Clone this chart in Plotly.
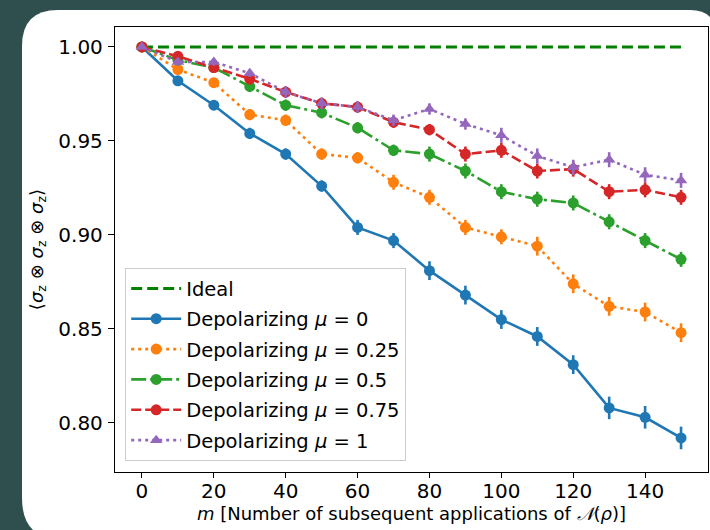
import plotly.graph_objects as go

m_values = [0, 10, 20, 30, 40, 50, 60, 70, 80, 90, 100, 110, 120, 130, 140, 150]

mu0 = [1.000, 0.982, 0.969, 0.954, 0.943, 0.926, 0.904, 0.897, 0.881, 0.868, 0.855, 0.846, 0.831, 0.808, 0.803, 0.792]
mu0_err = [0.000, 0.002, 0.002, 0.003, 0.003, 0.003, 0.004, 0.004, 0.005, 0.005, 0.005, 0.005, 0.005, 0.006, 0.006, 0.006]

mu025 = [1.000, 0.988, 0.981, 0.964, 0.961, 0.943, 0.941, 0.928, 0.920, 0.904, 0.899, 0.894, 0.874, 0.862, 0.859, 0.848]
mu025_err = [0.000, 0.002, 0.002, 0.003, 0.003, 0.003, 0.003, 0.004, 0.004, 0.004, 0.004, 0.005, 0.005, 0.005, 0.005, 0.005]

mu05 = [1.000, 0.993, 0.989, 0.979, 0.969, 0.965, 0.957, 0.945, 0.943, 0.934, 0.923, 0.919, 0.917, 0.907, 0.897, 0.887]
mu05_err = [0.000, 0.002, 0.002, 0.003, 0.003, 0.003, 0.003, 0.003, 0.004, 0.004, 0.004, 0.004, 0.004, 0.004, 0.004, 0.004]

mu075 = [1.000, 0.995, 0.989, 0.983, 0.976, 0.970, 0.968, 0.960, 0.956, 0.943, 0.945, 0.934, 0.935, 0.923, 0.924, 0.920]
mu075_err = [0.000, 0.002, 0.002, 0.003, 0.003, 0.003, 0.003, 0.003, 0.003, 0.004, 0.004, 0.004, 0.004, 0.004, 0.004, 0.004]

mu1 = [1.000, 0.992, 0.992, 0.986, 0.976, 0.970, 0.968, 0.961, 0.967, 0.959, 0.953, 0.942, 0.936, 0.940, 0.932, 0.929]
mu1_err = [0.000, 0.002, 0.002, 0.002, 0.003, 0.003, 0.003, 0.003, 0.003, 0.003, 0.004, 0.004, 0.004, 0.004, 0.004, 0.004]

ideal = [1.0 for _ in m_values]

x_ticks = [0, 20, 40, 60, 80, 100, 120, 140]
y_ticks = [0.80, 0.85, 0.90, 0.95, 1.00]

series = [
    ("Depolarizing <i>μ</i> = 0", mu0, mu0_err, "#1f77b4", "solid", "circle"),
    ("Depolarizing <i>μ</i> = 0.25", mu025, mu025_err, "#ff7f0e", "3px,4px", "circle"),
    ("Depolarizing <i>μ</i> = 0.5", mu05, mu05_err, "#2ca02c", "15px,4px,3px,4px", "circle"),
    ("Depolarizing <i>μ</i> = 0.75", mu075, mu075_err, "#d62728", "10px,4px", "circle"),
    ("Depolarizing <i>μ</i> = 1", mu1, mu1_err, "#9467bd", "3px,4px", "triangle-up"),
]

FONT = "DejaVu Sans"

fig = go.Figure()
fig.add_trace(go.Scatter(
    x=m_values, y=ideal, mode="lines", name="Ideal",
    line=dict(color="#008000", width=3, dash="11px,5px"), legendgroup="a",
))
for i, (name, vals, errs, color, dash, sym) in enumerate(series):
    fig.add_trace(go.Scatter(
        x=m_values, y=vals, mode="lines+markers", name=name,
        line=dict(color=color, width=2.6, dash=dash),
        marker=dict(color=color, size=11, symbol=sym),
        error_y=dict(type="data", array=errs, visible=True, color=color, thickness=2.6, width=0),
        legendgroup="g%d" % i,
    ))

# paper coordinates of the white rounded panel
L, R, T, B = 115, 708, 27, 472
W, H = R - L, B - T
def px(x):
    return (x - L) / W
def py(y):
    return (B - y) / H

x0, x1, y0, y1 = 22, 716, 10, 540
r_tl, r_bl, r_tr = 36, 42, 26
path = (
    f"M {px(x0)},{py(y0 + r_tl)} "
    f"Q {px(x0)},{py(y0)} {px(x0 + r_tl)},{py(y0)} "
    f"L {px(x1 - r_tr)},{py(y0)} "
    f"Q {px(x1)},{py(y0)} {px(x1)},{py(y0 + r_tr)} "
    f"L {px(x1)},{py(y1)} "
    f"L {px(x0 + r_bl)},{py(y1)} "
    f"Q {px(x0)},{py(y1)} {px(x0)},{py(y1 - r_bl)} Z"
)

fig.update_layout(
    width=710, height=530,
    margin=dict(l=L, r=710 - R, t=T, b=530 - B),
    paper_bgcolor="#2f4f4f",
    plot_bgcolor="white",
    font=dict(family=FONT, size=19, color="black"),
    shapes=[dict(type="path", path=path, xref="paper", yref="paper",
                 fillcolor="white", line=dict(width=0), layer="below")],
    legend=dict(
        x=px(125), y=py(268), xanchor="left", yanchor="top",
        bgcolor="rgba(255,255,255,0.85)", bordercolor="#cccccc", borderwidth=1.2,
        font=dict(family=FONT, size=19.5, color="black"),
        tracegroupgap=2, itemwidth=50,
    ),
    showlegend=True,
)

fig.update_xaxes(
    range=[-7.5, 157.5], tickvals=x_ticks, ticks="outside", ticklen=5, tickwidth=1.3,
    tickcolor="black", showline=True, linecolor="black", linewidth=1.3, mirror=True,
    showgrid=False, zeroline=False, ticklabelstandoff=-4,
    tickfont=dict(family=FONT, size=20),
    title=dict(text="<i>m</i> [Number of subsequent applications of <i>𝒩</i>(<i>ρ</i>)]",
               font=dict(family=FONT, size=18), standoff=0),
)
fig.update_yaxes(
    range=[0.7739, 1.0106], tickvals=y_ticks, tickformat=".2f", ticks="outside", ticklen=6,
    tickwidth=1.3, tickcolor="black", showline=True, linecolor="black", linewidth=1.3,
    mirror=True, showgrid=False, zeroline=False, ticklabelstandoff=1,
    tickfont=dict(family=FONT, size=20),
    title=dict(text="⟨<i>σ</i><sub>z</sub> ⊗ <i>σ</i><sub>z</sub> ⊗ <i>σ</i><sub>z</sub>⟩",
               font=dict(family=FONT, size=18), standoff=10),
)

fig.write_html(
    "out.html",
    config={"displayModeBar": False},
    post_script="document.body.style.margin='0';document.body.style.overflow='hidden';",
)
